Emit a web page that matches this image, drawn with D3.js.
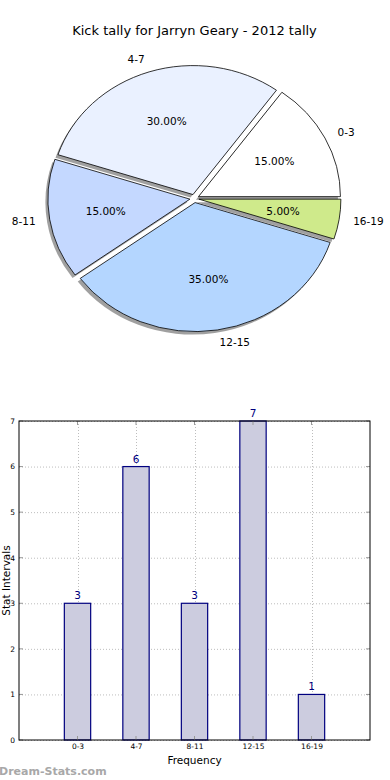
<!DOCTYPE html>
<html><head><meta charset="utf-8">
<script src="https://cdn.jsdelivr.net/npm/d3@7"></script>
<style>body{margin:0;background:#fff}svg{display:block;font-family:"DejaVu Sans",sans-serif}</style>
</head><body>
<svg id="c" width="390" height="780"></svg>
<script>
const categories = ["0-3","4-7","8-11","12-15","16-19"];
const values = [3,6,3,7,1];
const pieColors = ["#ffffff","#eaf1ff","#c4d8ff","#b4d6ff","#cfea8b"];
const yTicks = [0,1,2,3,4,5,6,7];
const title = "Kick tally for Jarryn Geary - 2012 tally";

const svg = d3.select("#c");
svg.append("rect").attr("width",390).attr("height",780).attr("fill","#fff");

// title
svg.append("text").attr("x",194.5).attr("y",35).attr("text-anchor","middle")
  .attr("font-size",13).attr("fill","#000").text(title);

// ---- pie ----
const cx = 194.4, cy = 198.5, rx = 142, ry = 129, explode = 0.032;
const sy = ry/rx;
const total = d3.sum(values);
const pie = d3.pie().sort(null).startAngle(Math.PI/2).endAngle(Math.PI/2 - 2*Math.PI);
const arcs = pie(values);
const arc = d3.arc().innerRadius(0).outerRadius(rx);
const g = svg.append("g");
function off(d, k){ const a=(d.startAngle+d.endAngle)/2; return [k*rx*Math.sin(a), -k*rx*Math.cos(a)*sy]; }
// shadows
arcs.forEach((d,i)=>{
  const [ox,oy]=off(d,explode);
  g.append("path").attr("d",arc(d))
    .attr("transform",`translate(${cx+ox-2.5},${cy+oy+3}) scale(1,${sy})`)
    .attr("fill","#777").attr("opacity",0.7);
});
arcs.forEach((d,i)=>{
  const [ox,oy]=off(d,explode);
  g.append("path").attr("d",arc(d))
    .attr("transform",`translate(${cx+ox},${cy+oy}) scale(1,${sy})`)
    .attr("fill",pieColors[i]).attr("stroke","#000").attr("stroke-width",0.8)
    .attr("vector-effect","non-scaling-stroke");
});
arcs.forEach((d,i)=>{
  const [px,py]=off(d,explode+0.6);
  g.append("text").attr("x",cx+px).attr("y",cy+py).attr("dy","0.35em")
    .attr("text-anchor","middle").attr("font-size",10.5).text(d3.format(".2f")(values[i]/total*100)+"%");
  const [lx,ly]=off(d,explode+1.1);
  g.append("text").attr("x",cx+lx).attr("y",cy+ly).attr("dy","0.35em")
    .attr("text-anchor", lx>0?"start":"end").attr("font-size",10.5).text(categories[i]);
});

// ---- bar chart ----
const L=19, R=370, T=421, B=740;
const x = d3.scaleLinear().domain([-1, categories.length]).range([L,R]);
const y = d3.scaleLinear().domain([0,7]).range([B,T]);
const bw = x(0.45)-x(0);
const grid = svg.append("g").attr("stroke","#bdbdbd").attr("stroke-width",1).attr("stroke-dasharray","1,2");
yTicks.forEach(t=>grid.append("line").attr("x1",L).attr("x2",R).attr("y1",y(t)+0.5).attr("y2",y(t)+0.5));
categories.forEach((c,i)=>grid.append("line").attr("x1",Math.round(x(i))+0.5).attr("x2",Math.round(x(i))+0.5).attr("y1",T).attr("y2",B));

svg.append("g").selectAll("rect").data(values).join("rect")
  .attr("x",(d,i)=>x(i)-bw/2).attr("width",bw)
  .attr("y",d=>y(d)).attr("height",d=>B-y(d))
  .attr("fill","#ccccdf").attr("stroke","#00007f").attr("stroke-width",1.2);

// ticks
const tk = svg.append("g").attr("stroke","#999").attr("stroke-width",1);
yTicks.forEach(t=>{
  tk.append("line").attr("x1",L).attr("x2",L+4).attr("y1",y(t)).attr("y2",y(t));
  tk.append("line").attr("x1",R-4).attr("x2",R).attr("y1",y(t)).attr("y2",y(t));
});
categories.forEach((c,i)=>{
  tk.append("line").attr("x1",x(i)).attr("x2",x(i)).attr("y1",T).attr("y2",T+4);
  tk.append("line").attr("x1",x(i)).attr("x2",x(i)).attr("y1",B-4).attr("y2",B);
});

// frame
svg.append("rect").attr("x",L).attr("y",T).attr("width",R-L).attr("height",B-T)
  .attr("fill","none").attr("stroke","#000").attr("stroke-width",1);

// axes labels
const yAxis = d3.axisLeft(y).tickValues(yTicks).tickSize(0).tickPadding(4).tickFormat(d3.format("d"));
const ya = svg.append("g").attr("transform",`translate(${L},0)`).call(yAxis);
ya.select(".domain").remove();
ya.selectAll("text").attr("font-size",7.5).attr("font-family","DejaVu Sans").attr("fill","#000");
const xAxis = d3.axisBottom(x).tickValues(d3.range(categories.length)).tickSize(0).tickPadding(4).tickFormat(i=>categories[i]);
const xa = svg.append("g").attr("transform",`translate(0,${B})`).call(xAxis);
xa.select(".domain").remove();
xa.selectAll("text").attr("font-size",7.5).attr("font-family","DejaVu Sans").attr("fill","#000");

// value labels
svg.append("g").selectAll("text").data(values).join("text")
  .attr("x",(d,i)=>x(i)).attr("y",d=>y(d)-4).attr("text-anchor","middle")
  .attr("font-size",10.5).attr("fill","#00007f").text(d=>d);

svg.append("text").attr("x",(L+R)/2).attr("y",764).attr("text-anchor","middle")
  .attr("font-size",10.5).text("Frequency");
svg.append("text").attr("transform",`translate(9.5,${(T+B)/2}) rotate(-90)`).attr("text-anchor","middle")
  .attr("font-size",10.5).text("Stat Intervals");

svg.append("text").attr("x",-1).attr("y",775).attr("font-size",11).attr("font-weight","bold")
  .attr("fill","#a8a8a8").text("Dream-Stats.com");
</script>
</body></html>
